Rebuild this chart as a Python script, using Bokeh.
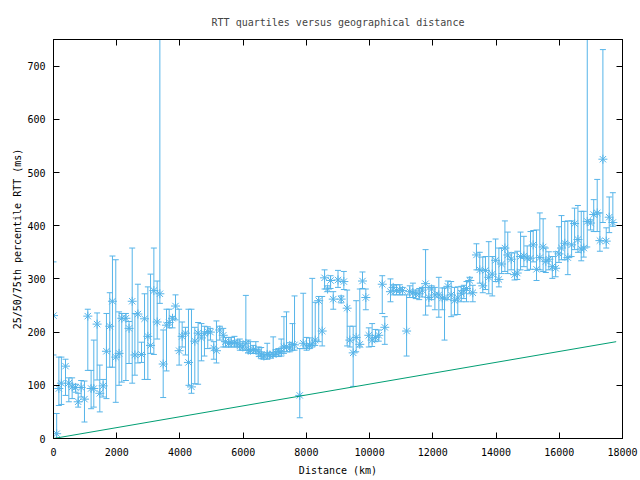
from bokeh.plotting import figure
from bokeh.models import ColumnDataSource, LinearAxis, FixedTicker, Range1d
from bokeh.embed import file_html
from bokeh.resources import INLINE

# ---- data ----
distance_km = [0, 100, 170, 250, 380, 485, 590, 700, 780, 875, 980, 1085, 1190, 1275, 1380, 1465, 1570,
               1675, 1780, 1865, 1970, 2075, 2160, 2290, 2390, 2490, 2575, 2670, 2785, 2880, 2985, 3070,
               3175, 3280, 3365, 3470, 3575, 3660, 3765, 3860, 3975, 4070, 4175, 4270, 4365, 4470, 4575,
               4680, 4775, 4880, 4965, 5070, 5155, 5260, 5370, 5440, 5545, 5620, 5725, 5810, 5895, 5990,
               6085, 6160, 6230, 6320, 6400, 6495, 6570, 6655, 6760, 6845, 6950, 7035, 7130, 7205, 7290,
               7370, 7475, 7560, 7625, 7790, 7900, 8005, 8100, 8185, 8280, 8390, 8500, 8575, 8670, 8765,
               8850, 9000, 9100, 9185, 9290, 9375, 9480, 9575, 9690, 9775, 9880, 9975, 10080, 10185,
               10290, 10400, 10480, 10660, 10745, 10850, 10955, 11040, 11170, 11270, 11370, 11460, 11570,
               11665, 11770, 11875, 11960, 12065, 12190, 12300, 12370, 12475, 12580, 12685, 12790, 12900,
               12980, 13065, 13170, 13265, 13380, 13485, 13580, 13665, 13770, 13880, 13985, 14090, 14175,
               14280, 14370, 14480, 14585, 14670, 14775, 14880, 14985, 15090, 15175, 15280, 15385, 15490,
               15575, 15670, 15780, 15885, 15990, 16070, 16175, 16270, 16390, 16485, 16590, 16695, 16775,
               16885, 16990, 17090, 17200, 17285, 17380, 17485, 17580, 17695]

median_ms = [231, 9, 94, 104, 136, 104, 97, 96, 69, 96, 74, 230, 94, 94, 215, 85, 99,
             164, 211, 258, 153, 160, 226, 226, 207, 258, 157, 234, 158, 225, 192, 175,
             278, 219, 272, 140, 213, 218, 226, 249, 165, 192, 198, 143, 97, 183, 198,
             189, 197, 201, 200, 170, 165, 204, 194, 182, 179, 180, 180, 179, 174, 172,
             179, 166, 166, 167, 167, 163, 157, 155, 158, 157, 158, 161, 163, 163, 172,
             172, 170, 177, 176, 81, 179, 174, 175, 178, 185, 259, 202, 302, 281, 297,
             262, 298, 262, 295, 245, 185, 161, 190, 177, 296, 265, 194, 185, 190,
             194, 290, 209, 276, 284, 278, 279, 278, 202, 276, 274, 272, 272,
             279, 291, 265, 281, 270, 270, 264, 264, 286, 270, 259, 264, 273,
             278, 282, 297, 274, 345, 317, 287, 316, 303, 309, 335, 299, 328,
             358, 345, 337, 308, 311, 342, 343, 339, 339, 364, 318, 340, 360,
             333, 337, 323, 320, 347, 358, 367, 340, 364, 404, 374, 356, 358,
             408, 405, 421, 424, 372, 525, 371, 416, 406]

q25_ms = [157, 0, 62, 64, 81, 69, 75, 87, 59, 78, 31, 128, 56, 59, 110, 50, 78,
          75, 134, 134, 68, 100, 106, 109, 141, 104, 119, 142, 143, 111, 111, 160,
          158, 187, 254, 77, 127, 208, 208, 223, 138, 172, 157, 100, 85, 103, 102,
          146, 155, 169, 185, 149, 142, 185, 172, 172, 172, 172, 172, 172, 166, 166,
          166, 161, 160, 160, 160, 154, 150, 149, 149, 151, 154, 155, 154, 155, 160,
          163, 163, 166, 166, 39, 169, 166, 169, 172, 175, 182, 174, 281, 276, 282,
          243, 284, 255, 280, 174, 172, 98, 163, 172, 282, 242, 172, 173, 182,
          183, 235, 177, 257, 270, 270, 270, 270, 155, 265, 265, 263, 261,
          266, 232, 249, 261, 242, 228, 242, 185, 261, 229, 232, 233, 257,
          263, 257, 272, 257, 317, 292, 274, 280, 272, 268, 295, 285, 310,
          314, 310, 317, 298, 299, 317, 323, 316, 318, 332, 297, 317, 314,
          312, 317, 301, 304, 331, 336, 336, 308, 342, 355, 350, 334, 341,
          360, 392, 389, 389, 352, 406, 358, 387, 399]

q75_ms = [332, 47, 153, 153, 149, 114, 114, 102, 85, 109, 108, 243, 128, 185, 236, 138, 111,
          235, 274, 343, 336, 238, 235, 235, 220, 358, 235, 290, 181, 272, 285, 309,
          358, 296, 900, 204, 243, 243, 229, 270, 243, 219, 209, 243, 243, 209, 218,
          216, 211, 210, 207, 182, 221, 211, 207, 190, 190, 190, 192, 185, 187, 182,
          269, 185, 182, 175, 182, 172, 171, 161, 179, 162, 191, 167, 169, 187, 229,
          238, 180, 216, 268, 169, 273, 190, 189, 301, 256, 267, 267, 317, 287, 306,
          276, 316, 268, 314, 279, 211, 211, 259, 281, 313, 281, 208, 216, 205,
          204, 306, 229, 300, 289, 289, 289, 284, 270, 287, 292, 279, 282,
          284, 355, 284, 287, 284, 303, 283, 283, 296, 295, 284, 285, 286,
          288, 295, 303, 288, 366, 350, 341, 342, 370, 342, 375, 358, 358,
          409, 388, 349, 349, 352, 388, 380, 362, 389, 391, 392, 424, 413,
          358, 351, 342, 351, 398, 419, 408, 409, 409, 433, 438, 427, 427,
          900, 411, 449, 487, 424, 731, 396, 454, 462]

bound_km = [0, 17800]
bound_ms = [0, 182]

x_ticks = [0, 2000, 4000, 6000, 8000, 10000, 12000, 14000, 16000, 18000]
y_ticks = [0, 100, 200, 300, 400, 500, 600, 700]

BLUE = "#56b4e9"
GREEN = "#009e73"
FONT = "DejaVu Sans Mono"

src = ColumnDataSource(dict(x=distance_km, med=median_ms, lo=q25_ms, hi=q75_ms))

p = figure(width=640, height=480, x_range=Range1d(0, 18000), y_range=Range1d(0, 750),
           output_backend="svg", toolbar_location=None,
           title="RTT quartiles versus geographical distance",
           x_axis_label="Distance (km)", y_axis_label="25/50/75th percentile RTT (ms)",
           min_border_left=53, min_border_right=18, min_border_top=39, min_border_bottom=42)

p.title.align = "center"
p.title.text_font = FONT
p.title.text_font_size = "10px"
p.title.text_font_style = "normal"
p.title.standoff = 24

p.xgrid.visible = False
p.ygrid.visible = False
p.outline_line_color = "black"
p.outline_line_alpha = 1.0
p.background_fill_color = "white"
p.border_fill_color = "white"

for ax in (p.xaxis[0], p.yaxis[0]):
    ax.major_tick_in = 6
    ax.major_tick_out = 0
    ax.minor_tick_in = 0
    ax.minor_tick_out = 0
    ax.axis_line_color = "black"
    ax.major_tick_line_color = "black"
    ax.major_label_text_font = FONT
    ax.major_label_text_font_size = "10px"
    ax.major_label_text_color = "black"
    ax.axis_label_text_font = FONT
    ax.axis_label_text_font_size = "10px"
    ax.axis_label_text_font_style = "normal"
    ax.axis_label_text_color = "black"

p.xaxis[0].ticker = FixedTicker(ticks=x_ticks)
p.yaxis[0].ticker = FixedTicker(ticks=y_ticks)
p.xaxis[0].major_label_standoff = 9
p.xaxis[0].axis_label_standoff = 6
p.yaxis[0].major_label_standoff = 8
p.yaxis[0].axis_label_standoff = 1

# mirrored ticks on top and right (labels not drawn)
top_ax = LinearAxis(ticker=FixedTicker(ticks=x_ticks), major_tick_in=6, major_tick_out=0,
                    minor_tick_in=0, minor_tick_out=0, major_label_text_font_size="1px",
                    major_label_text_color=None, major_label_standoff=0, axis_line_color="black")
right_ax = LinearAxis(ticker=FixedTicker(ticks=y_ticks), major_tick_in=6, major_tick_out=0,
                      minor_tick_in=0, minor_tick_out=0, major_label_text_font_size="1px",
                      major_label_text_color=None, major_label_standoff=0, axis_line_color="black")
p.add_layout(top_ax, "above")
p.add_layout(right_ax, "right")

# error bars
p.segment(x0="x", y0="lo", x1="x", y1="hi", source=src, line_color=BLUE, line_width=1)
p.scatter(x="x", y="lo", source=src, marker="dash", size=6, line_color=BLUE, line_width=1)
p.scatter(x="x", y="hi", source=src, marker="dash", size=6, line_color=BLUE, line_width=1)
p.scatter(x="x", y="med", source=src, marker="asterisk", size=9, line_color=BLUE, line_width=1)

# lower bound line
p.line(bound_km, bound_ms, line_color=GREEN, line_width=1)

open("out.html", "w").write(file_html(p, INLINE))
